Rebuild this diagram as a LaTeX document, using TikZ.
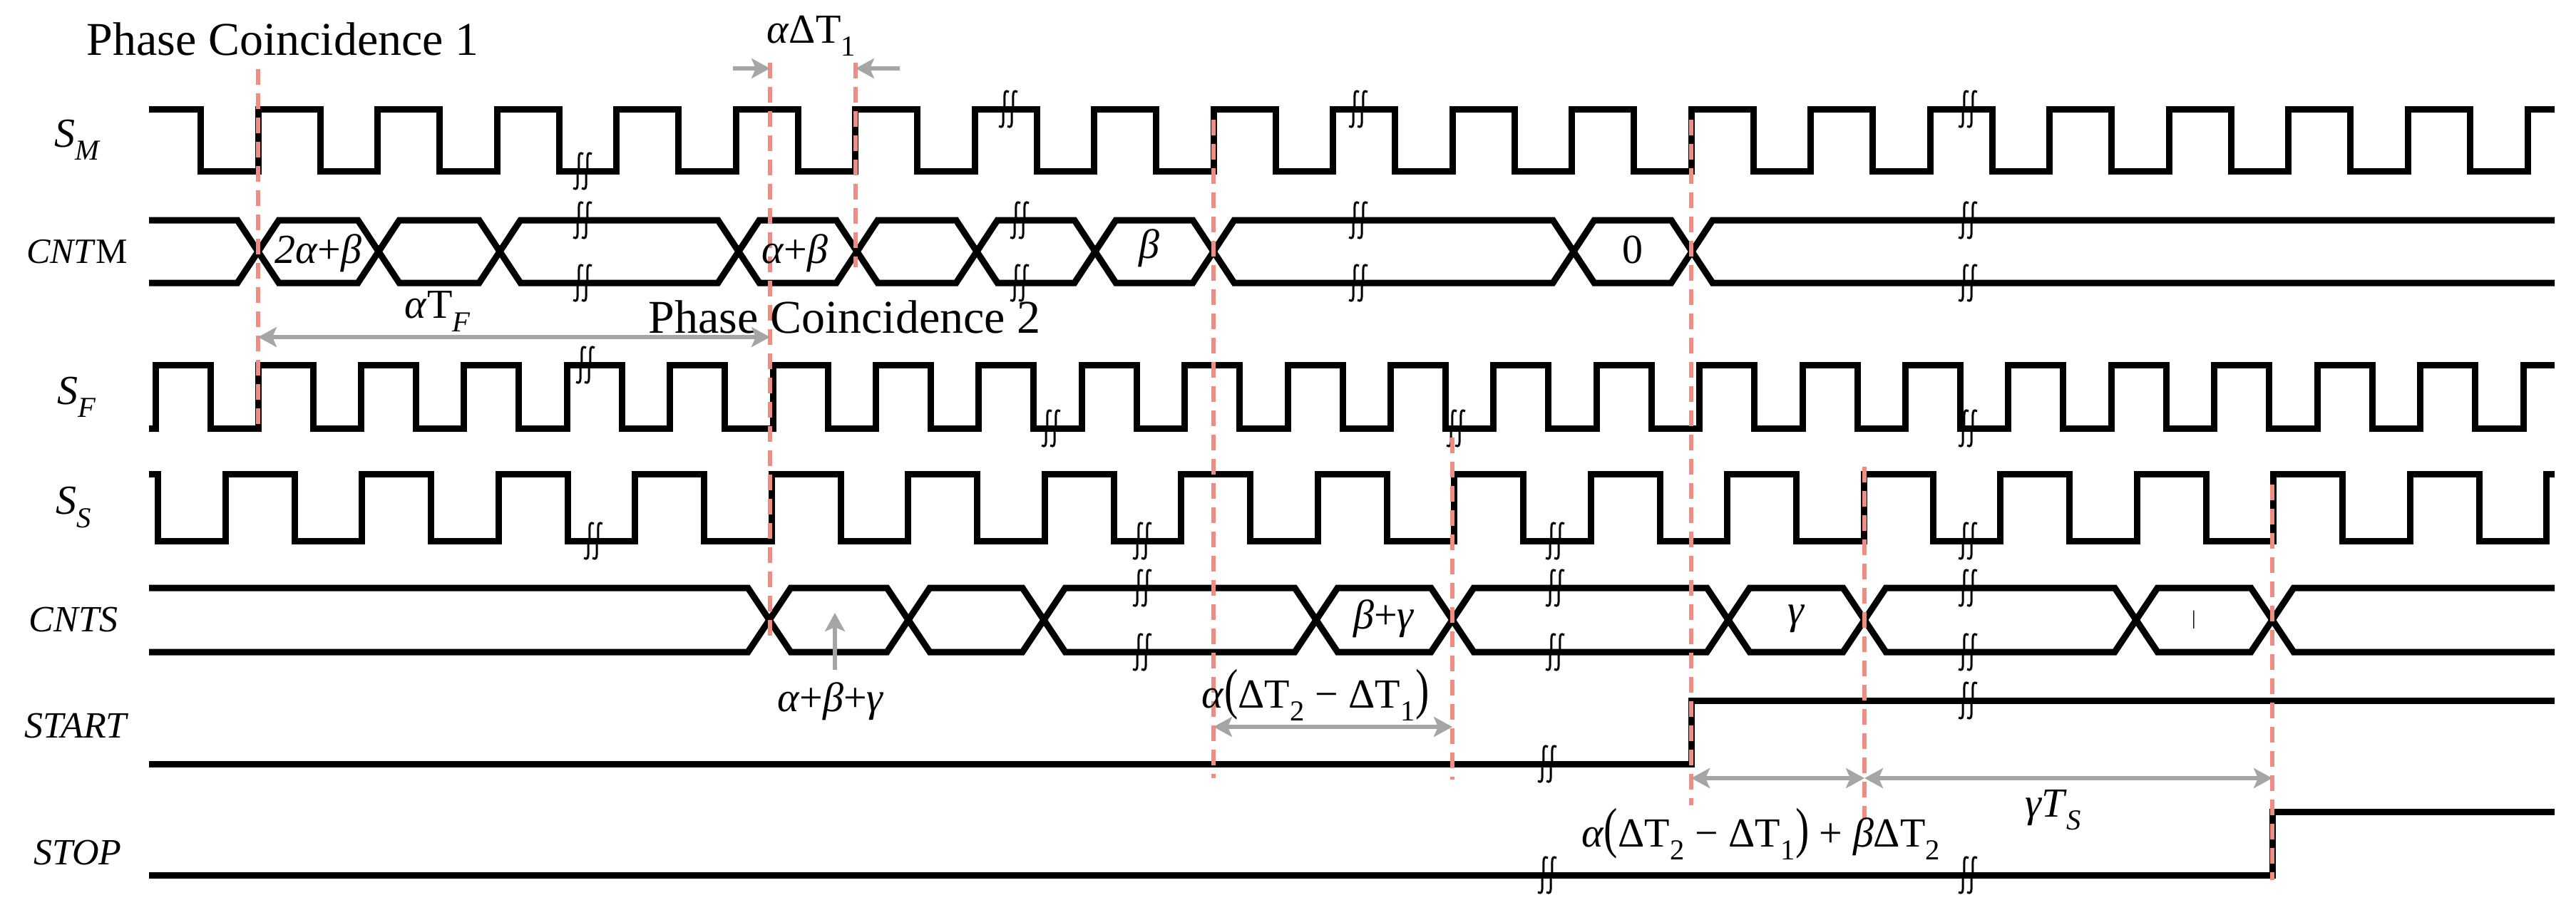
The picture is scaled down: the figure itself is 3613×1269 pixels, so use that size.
\documentclass[tikz,border=0pt]{standalone}
\usepackage{fontspec}
\setmainfont{Liberation Serif}
\usepackage{graphicx}
\usetikzlibrary{arrows.meta}
\definecolor{salmon}{RGB}{240,140,130}
\definecolor{agray}{RGB}{165,165,165}
\newcommand{\sbs}[1]{\textsubscript{#1}}
\newcommand{\tp}[1]{\scalebox{1}[1.35]{#1}}
\begin{document}
\begin{tikzpicture}[x=1pt,y=-1pt,
  wave/.style={line width=9pt,black,line join=miter},
  dsh/.style={line width=5.5pt,salmon,dash pattern=on 22pt off 12pt},
  garr/.style={line width=6pt,agray,-{Stealth[length=26pt,width=28pt,inset=6pt]}},
  garr2/.style={line width=6pt,agray,{Stealth[length=26pt,width=28pt,inset=6pt]}-{Stealth[length=26pt,width=28pt,inset=6pt]}},
  sig/.style={font=\fontsize{58}{64}\selectfont\itshape},
  lbl/.style={font=\fontsize{58}{64}\selectfont},
  brk/.pic={\foreach \d in {-6,6}{\draw[line width=3pt,black] (\d+7,-24) .. controls (\d-3,-30) and (\d+3,-10) .. (\d,0) .. controls (\d-3,10) and (\d+3,30) .. (\d-7,24);}}]
\useasboundingbox (0,0) rectangle (3613,1269);
% S_M
\draw[wave] (209,153) -- (281.5,153) -- (281.5,240)
  \foreach \k in {0,...,18} { -- ({362+167.5*\k},240) -- ({362+167.5*\k},153) -- ({449+167.5*\k},153) -- ({449+167.5*\k},240) }
  -- (3545,240) -- (3545,153) -- (3583,153);
% S_F
\draw[wave] (209,601) -- (218,601) -- (218,512) -- (295,512) -- (295,601)
  \foreach \k in {0,...,21} { -- ({362+144.4*\k},601) -- ({362+144.4*\k},512) -- ({439+144.4*\k},512) -- ({439+144.4*\k},601) }
  -- (3539,601) -- (3539,512) -- (3583,512);
% S_S
\draw[wave] (209,665) -- (221,665) -- (221,759)
  \foreach \k in {0,...,16} { -- ({316+191.5*\k},759) -- ({316+191.5*\k},665) -- ({413+191.5*\k},665) -- ({413+191.5*\k},759) }
  -- (3571,759) -- (3571,665) -- (3583,665);
% CNTM
\def\cntm{362/309/397,531/397/309,701/309/397,1036/397/309,1202/309/397,1370/397/309,1536/309/397,1702/397/309,2207/309/397,2373/397/309}
\draw[wave] (209,309) \foreach \c/\ya/\yb in \cntm { -- (\c-29,\ya) -- (\c+29,\yb) } -- (3583,309);
\draw[wave] (209,397) \foreach \c/\yb/\ya in \cntm { -- (\c-29,\ya) -- (\c+29,\yb) } -- (3583,397);
% CNTS
\def\cnts{1079/825/915,1274/915/825,1464/825/915,1846/915/825,2037/825/915,2424/915/825,2615/825/915,2996/915/825,3187/825/915}
\draw[wave] (209,825) \foreach \c/\ya/\yb in \cnts { -- (\c-30,\ya) -- (\c+30,\yb) } -- (3583,915);
\draw[wave] (209,915) \foreach \c/\yb/\ya in \cnts { -- (\c-30,\ya) -- (\c+30,\yb) } -- (3583,825);
% START / STOP
\draw[wave] (209,1072) -- (2372,1072) -- (2372,983) -- (3583,983);
\draw[wave] (209,1228) -- (3187,1228) -- (3187,1139) -- (3583,1139);
% break marks
\foreach \p in {(817,240),(1414,153),(1905,153),(2760,153),
  (817,309),(817,397),(1430,309),(1430,397),(1905,309),(1905,397),(2760,309),(2760,397),
  (821,512),(1474,601),(2042,601),(2760,601),
  (832,759),(1602,759),(2181,759),(2760,759),
  (1602,825),(1602,915),(2181,825),(2181,915),(2760,825),(2760,915),
  (2170,1072),(2760,983),(2170,1228),(2760,1228)}
  \pic at \p {brk};
% dashed lines
\draw[dsh] (362,97) -- (362,600);
\draw[dsh] (1080,88) -- (1080,892);
\draw[dsh] (1200,88) -- (1200,375);
\draw[dsh] (1702,168) -- (1702,1092);
\draw[dsh] (2372,168) -- (2372,1130);
\draw[dsh] (2037,614) -- (2037,1094);
\draw[dsh] (2615,655) -- (2615,1150);
\draw[dsh] (3187,680) -- (3187,1235);
% signal labels
\node[sig] (lsm) at (108,196) {S\sbs{M}};
\node[font=\fontsize{50}{56}\selectfont] (lcntm) at (108,353) {\textit{CNT}M};
\node[sig] (lsf) at (108,557) {S\sbs{F}};
\node[sig] (lss) at (103,712) {S\sbs{S}};
\node[sig,font=\fontsize{52}{56}\selectfont\itshape] (lcnts) at (103,870) {CNTS};
\node[sig,font=\fontsize{52}{56}\selectfont\itshape] (lstart) at (106,1019) {START};
\node[sig,font=\fontsize{52}{56}\selectfont\itshape] (lstop) at (109,1197) {STOP};
% bus labels
\node[lbl] (b1) at (446,355) {\textit{2α}+\textit{β}};
\node[lbl] (b2) at (1115,355) {\textit{α}+\textit{β}};
\node[lbl] (b3) at (1612,348) {\textit{β}};
\node[lbl] (b4) at (2290,350) {0};
\node[lbl] (b5) at (1941,868) {\textit{β}+\textit{γ}};
\node[lbl] (b6) at (2520,868) {\textit{γ}};
\node[font=\fontsize{28}{30}\selectfont] (b7) at (3077,870) {|};
% texts
\node[lbl,font=\fontsize{66}{70}\selectfont,anchor=base west] (pc1) at (118,77) {Phase Coincidence 1};
\node[lbl,font=\fontsize{66}{70}\selectfont,anchor=base west] (pc2) at (906,467) {Phase Coincidence 2};
\node[lbl] (atf) at (614,437) {\textit{α}T\sbs{\textit{F}}};
\node[lbl] (adt1) at (1138,50) {\textit{α}ΔT\sbs{1}};
\node[lbl] (abg) at (1165,984) {\textit{α}+\textit{β}+\textit{γ}};
\node[lbl] (adt21) at (1845,975) {\textit{α}\tp{(}ΔT\sbs{2} − ΔT\sbs{1}\tp{)}};
\node[lbl] (big) at (2470,1170) {\textit{α}\tp{(}ΔT\sbs{2} − ΔT\sbs{1}\tp{)} + \textit{β}ΔT\sbs{2}};
\node[lbl] (gts) at (2880,1137) {\textit{γT}\sbs{\textit{S}}};
% gray arrows
\coordinate (tfL) at (362,473); \coordinate (tfR) at (1080,473);
\draw[garr2] (tfL) -- (tfR);
\coordinate (d1a) at (1028,96); \coordinate (d1b) at (1080,96);
\coordinate (d1c) at (1262,96); \coordinate (d1d) at (1200,96);
\draw[garr] (d1a) -- (d1b);
\draw[garr] (d1c) -- (d1d);
\coordinate (ab0) at (1171,940); \coordinate (ab1) at (1171,860);
\draw[garr] (ab0) -- (ab1);
\coordinate (x1) at (1702,1020); \coordinate (x2) at (2037,1020);
\draw[garr2] (x1) -- (x2);
\coordinate (y1) at (2372,1092); \coordinate (y2) at (2615,1092); \coordinate (y3) at (3187,1092);
\draw[garr2] (y1) -- (y2);
\draw[garr2] (y2) -- (y3);
\end{tikzpicture}
\end{document}
